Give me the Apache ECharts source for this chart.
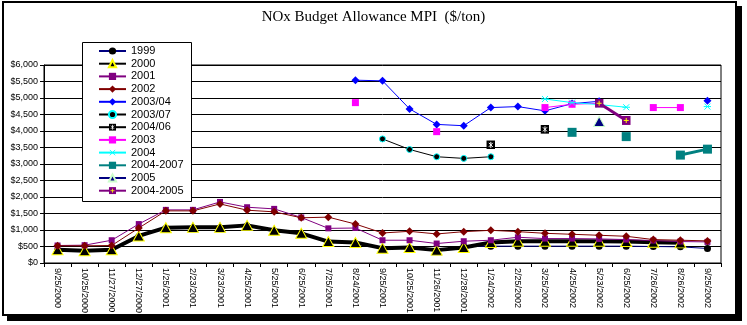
<!DOCTYPE html>
<html>
<head>
<meta charset="utf-8">
<script src="https://cdn.jsdelivr.net/npm/echarts@6/dist/echarts.min.js"></script>
<style>
  html, body { margin: 0; padding: 0; background: #fff; }
  #frame { position: absolute; left: 2px; top: 1px; width: 731px; height: 311px;
           border: 2px solid #000; box-shadow: 5px 5px 0 #000; background: #fff; }
  #chart { position: absolute; left: 0; top: 0; width: 747px; height: 325px; }
</style>
</head>
<body>
<div id="frame"></div>
<div id="chart"></div>
<script>
// Trade dates (monthly price survey)
const categories = ['9/25/2000','10/25/2000','11/27/2000','12/27/2000','1/25/2001','2/23/2001',
  '3/23/2001','4/25/2001','5/25/2001','6/25/2001','7/25/2001','8/24/2001','9/25/2001',
  '10/25/2001','11/26/2001','12/28/2001','1/24/2002','2/25/2002','3/25/2002','4/25/2002',
  '5/23/2002','6/25/2002','7/26/2002','8/26/2002','9/25/2002'];

// Allowance prices by vintage, $/ton (null = no quote)
const v1999 = [380,340,380,800,1050,1060,1060,1120,970,880,630,600,430,450,370,500,
  510,510,510,510,510,510,500,490,440];
const v2000 = [400,370,400,820,1070,1080,1080,1140,990,900,650,620,450,470,390,470,
  620,660,660,660,660,650,630,610,null];
const v2001 = [530,540,690,1180,1610,1610,1850,1690,1640,1380,1050,1060,690,690,590,660,
  690,780,740,740,730,710,680,650,640];
const v2002 = [520,520,530,1060,1580,1580,1790,1600,1550,1370,1390,1180,910,960,880,950,
  990,950,900,870,840,810,710,690,670];
const v2003_04 = [null,null,null,null,null,null,null,null,null,null,null,5540,5520,4670,4200,4160,
  4710,4740,4610,4830,4900,null,null,null,4920];
const v2003_07 = [null,null,null,null,null,null,null,null,null,null,null,null,3760,3440,3220,3170,
  3220,null,null,null,null,null,null,null,null];
const v2004_06 = [null,null,null,null,null,null,null,null,null,null,null,null,null,null,null,null,
  3580,null,4050,null,null,null,null,null,null];
const v2003 = [null,null,null,null,null,null,null,null,null,null,null,4860,null,null,3980,null,
  null,null,4710,4810,4840,null,4710,4710,null];
const v2004 = [null,null,null,null,null,null,null,null,null,null,null,null,null,null,null,null,
  null,null,4970,4860,4800,4720,null,null,4740];
const v2004_2007 = [null,null,null,null,null,null,null,null,null,null,null,null,null,null,null,null,
  null,null,null,3960,null,3830,null,3270,3450];
const v2005 = [null,null,null,null,null,null,null,null,null,null,null,null,null,null,null,null,
  null,null,null,null,4290,null,null,null,null];
const v2004_2005 = [null,null,null,null,null,null,null,null,null,null,null,null,null,null,null,null,
  null,null,null,null,4840,4320,null,null,null];

const yTicks = { min: 0, max: 6000, step: 500 };

function svgSymbol(svg) {
  return 'image://data:image/svg+xml;charset=utf-8,' + encodeURIComponent(svg);
}
const boxStar = svgSymbol('<svg xmlns="http://www.w3.org/2000/svg" width="9" height="9" viewBox="0 0 9 9">' +
  '<rect width="9" height="9" fill="#000"/><path d="M2.5 2.5L6.5 6.5M6.5 2.5L2.5 6.5M4.5 1.5V7.5" stroke="#fff" stroke-width="1"/></svg>');
const boxPlus = svgSymbol('<svg xmlns="http://www.w3.org/2000/svg" width="9" height="9" viewBox="0 0 9 9">' +
  '<rect width="9" height="9" fill="#800080"/><path d="M4.5 2V7M2 4.5H7" stroke="#ffff00" stroke-width="1"/></svg>');
const cyanStar = svgSymbol('<svg xmlns="http://www.w3.org/2000/svg" width="8" height="8" viewBox="0 0 8 8">' +
  '<path d="M1 1L7 7M7 1L1 7M0 4H8" stroke="#00ffff" stroke-width="1"/></svg>');

function line(name, data, color, width, symbol, size, extra) {
  return Object.assign({
    name, type: 'line', data,
    symbol, symbolSize: size,
    showAllSymbol: true,
    lineStyle: { color, width },
    itemStyle: { color },
    connectNulls: false,
    emphasis: { disabled: true }
  }, extra || {});
}

const series = [
  line('1999', v1999, '#000080', 1, 'circle', 7, { itemStyle: { color: '#000' } }),
  line('2000', v2000, '#000000', 4, 'triangle', [11, 10],
       { itemStyle: { color: '#000', borderColor: '#ffff00', borderWidth: 1 } }),
  line('2001', v2001, '#800080', 1, 'rect', 6),
  line('2002', v2002, '#800000', 1, 'diamond', 8),
  line('2003/04', v2003_04, '#0000ff', 1, 'diamond', 8),
  line('2003/07', v2003_07, '#000000', 1, 'circle', 6,
       { itemStyle: { color: '#000', borderColor: '#00ffff', borderWidth: 1 } }),
  line('2004/06', v2004_06, '#000000', 1, boxStar, 9),
  line('2003', v2003, '#ff00ff', 1, 'rect', 7),
  line('2004', v2004, '#00ffff', 1, cyanStar, 8),
  line('2004-2007', v2004_2007, '#008080', 3, 'rect', 9),
  line('2005', v2005, '#000080', 2, 'triangle', [11, 10],
       { itemStyle: { color: '#000080', borderColor: '#ccffcc', borderWidth: 1 } }),
  line('2004-2005', v2004_2005, '#800080', 3, boxPlus, 9)
];

const chart = echarts.init(document.getElementById('chart'), null, { renderer: 'canvas' });
chart.setOption({
  animation: false,
  backgroundColor: 'transparent',
  title: {
    text: 'NOx Budget Allowance MPI  ($/ton)',
    left: 'center', top: 10, padding: 0,
    textStyle: { fontFamily: '"Liberation Serif", "Times New Roman", serif', fontSize: 15,
                 fontWeight: 'normal', color: '#000' }
  },
  grid: { left: 44, right: 26, top: 65, bottom: 62, show: true,
          borderColor: '#000', borderWidth: 1, backgroundColor: 'transparent' },
  xAxis: {
    type: 'category', data: categories, boundaryGap: true,
    axisLine: { lineStyle: { color: '#000', width: 1 } },
    axisTick: { show: true, interval: 0, length: 4, lineStyle: { color: '#000' } },
    axisLabel: { interval: 0, rotate: -90, margin: 5, color: '#000', fontSize: 9,
                 fontFamily: '"Liberation Sans", Arial, sans-serif' },
    splitLine: { show: false }
  },
  yAxis: {
    type: 'value', min: yTicks.min, max: yTicks.max, interval: yTicks.step,
    axisLine: { show: true, lineStyle: { color: '#000', width: 1 } },
    axisTick: { show: true, length: 4, lineStyle: { color: '#000' } },
    axisLabel: { margin: 6, color: '#000', fontSize: 9,
                 fontFamily: '"Liberation Sans", Arial, sans-serif',
                 formatter: v => '$' + v.toLocaleString('en-US') },
    splitLine: { show: true, lineStyle: { color: '#000', width: 1 } }
  },
  legend: {
    orient: 'vertical', left: 98, top: 45, padding: 0,
    itemWidth: 27, itemHeight: 9, itemGap: 0.7,
    selectedMode: false, z: 20,
    textStyle: { fontSize: 11, color: '#000', lineHeight: 12,
                 fontFamily: '"Liberation Sans", Arial, sans-serif' },
    data: series.map(s => s.name)
  },
  graphic: [{
    type: 'rect', z: 15, silent: true,
    shape: { x: 82.5, y: 42.5, width: 109, height: 159 },
    style: { fill: '#fff', stroke: '#000', lineWidth: 1 }
  }],
  series
});
</script>
</body>
</html>
